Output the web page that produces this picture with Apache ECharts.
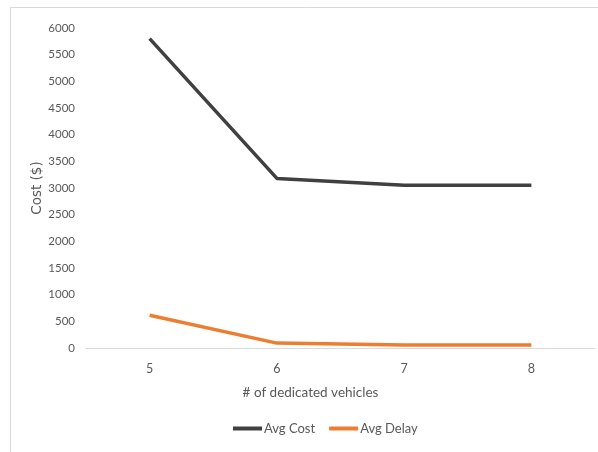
<!DOCTYPE html>
<html>
<head>
<meta charset="utf-8">
<script src="https://cdn.jsdelivr.net/npm/echarts@6/dist/echarts.min.js"></script>
<style>
html,body{margin:0;padding:0;background:#fff;}
#chart{width:598px;height:452px;}
</style>
</head>
<body>
<div id="chart"></div>
<script>
const categories = ['5', '6', '7', '8'];
const avgCost = [5800, 3180, 3050, 3050];
const avgDelay = [615, 92, 56, 55];
const yTicks = { min: 0, max: 6000, interval: 500 };
const seriesNames = ['Avg Cost', 'Avg Delay'];
const fontFam = 'Lato, "Open Sans", sans-serif';

const chart = echarts.init(document.getElementById('chart'));
chart.setOption({
  animation: false,
  backgroundColor: '#fff',
  graphic: [{
    type: 'polyline',
    shape: { points: [[10.5, 460], [10.5, 7.5], [610, 7.5]] },
    style: { stroke: '#d9d9d9', fill: null, lineWidth: 1 },
    silent: true
  }],
  grid: { left: 86, right: 3, top: 28, bottom: 104 },
  legend: {
    data: seriesNames,
    bottom: 12,
    left: 228,
    itemWidth: 29,
    itemHeight: 4,
    itemGap: 14,
    icon: 'rect',
    textStyle: { color: '#595959', fontSize: 13, fontFamily: fontFam, padding: [0, 0, 0, -3] }
  },
  xAxis: {
    type: 'category',
    data: categories,
    boundaryGap: true,
    name: '# of dedicated vehicles',
    nameLocation: 'middle',
    nameGap: 38,
    nameTextStyle: { color: '#595959', fontSize: 13.5, fontFamily: fontFam, padding: [0, 60, 0, 0] },
    axisLine: { lineStyle: { color: '#d9d9d9', width: 1 } },
    axisTick: { show: false },
    axisLabel: { color: '#595959', fontSize: 12.5, fontFamily: fontFam, margin: 14 }
  },
  yAxis: {
    type: 'value',
    min: yTicks.min,
    max: yTicks.max,
    interval: yTicks.interval,
    name: 'Cost ($)',
    nameLocation: 'middle',
    nameGap: 42,
    nameMoveOverlap: false,
    nameRotate: 90,
    nameTextStyle: { color: '#595959', fontSize: 13.5, fontFamily: '"DejaVu Sans", sans-serif' },
    axisLine: { show: false },
    axisTick: { show: false },
    splitLine: { show: false },
    axisLabel: { color: '#595959', fontSize: 11.5, fontFamily: fontFam, margin: 11, formatter: v => String(v) }
  },
  series: [
    {
      name: seriesNames[0], type: 'line', data: avgCost,
      symbol: 'none', lineStyle: { color: '#404040', width: 3.5 },
      itemStyle: { color: '#404040' }
    },
    {
      name: seriesNames[1], type: 'line', data: avgDelay,
      symbol: 'none', lineStyle: { color: '#ED7D31', width: 3.5 },
      itemStyle: { color: '#ED7D31' }
    }
  ]
});
</script>
</body>
</html>
